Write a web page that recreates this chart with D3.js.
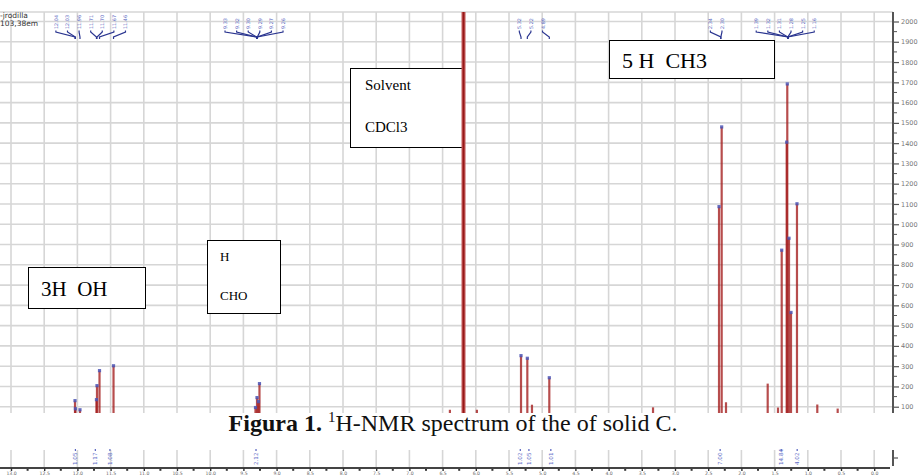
<!DOCTYPE html>
<html><head><meta charset="utf-8">
<script src="https://cdn.jsdelivr.net/npm/d3@7"></script>
<style>body{margin:0;background:#fff;overflow:hidden}svg{display:block}</style>
</head><body><svg id="c" width="921" height="476"></svg>
<script>
// ---- data ----
const xTicks = [13.0,12.5,12.0,11.5,11.0,10.5,10.0,9.5,9.0,8.5,8.0,7.5,7.0,6.5,6.0,5.5,5.0,4.5,4.0,3.5,3.0,2.5,2.0,1.5,1.0,0.5,0.0];
const xTickLabels = ["13.0","12.5","12.0","11.5","11.0","10.5","10.0","9.5","9.0","8.5","8.0","7.5","7.0","6.5","6.0","5.5","5.0","4.5","4.0","3.5","3.0","2.5","2.0","1.5","1.0","0.5","0.0"];
const yTicks = [100,200,300,400,500,600,700,800,900,1000,1100,1200,1300,1400,1500,1600,1700,1800,1900,2000];
const peakPpm = [12.036,12.030,11.961,11.713,11.705,11.667,11.456, 9.318,9.295,9.273,9.258, 6.390,5.983, 5.319,5.224,5.154,4.893, 3.331, 2.337,2.297,2.232, 1.604,1.449,1.393,1.318,1.309,1.283,1.253,1.163,0.857,0.550];
const peakInt = [130,90,85,135,204,278,302, 96,145,125,214, 85,85, 352,339,110,243, 97, 1087,1480,122, 214,96,872,1405,1692,931,565,1101,111,91];
const peakPicked = [1,1,1,1,1,1,1, 1,1,1,1, 0,0, 1,1,0,1, 0, 1,1,0, 0,0,1,1,1,1,1,1,0,0];
const solventPpm = 6.185;
const solventInt = 9000;
// peak-picking labels (top)
const labelGroups = [
  {center: 11.80, texts: ["12.04","12.03","11.96","11.71","11.70","11.67","11.46"], targets: [12.036,12.030,11.961,11.713,11.705,11.667,11.456]},
  {center: 9.34, texts: ["9.33","9.32","9.30","9.29","9.27","9.26"], targets: [9.30,9.30,9.30,9.29,9.29,9.29]},
  {center: 5.17, texts: ["5.32","5.22","4.89"], targets: [5.319,5.224,4.893]},
  {center: 2.38, texts: ["2.34","2.30"], targets: [2.31,2.31]},
  {center: 1.34, texts: ["1.39","1.32","1.31","1.28","1.25","1.16"], targets: [1.30,1.30,1.30,1.30,1.30,1.30]}
];
// integrals (bottom)
const integralPpm = [12.03,11.73,11.51,9.31,5.33,5.20,4.87,2.32,1.40,1.16];
const integralText = ["1.05","1.17","1.08","2.12","1.02","1.05","1.01","7.00","14.84","4.02"];

// ---- layout ----
const svg = d3.select("#c");
const W = 921, H = 476;
const pTop = 12, pBottom = 413;
const x = d3.scaleLinear().domain([13, 0]).range([11, 874.2]);
const y = d3.scaleLinear().domain([0, 2000]).range([427, 21.5]);

const defs = svg.append("defs");
defs.append("clipPath").attr("id","plotclip").append("rect").attr("x",0).attr("y",pTop).attr("width",893).attr("height",pBottom-pTop);

// grid
const grid = svg.append("g").attr("stroke","#d6d6d6").attr("stroke-width",1.6);
grid.selectAll("line.v").data(xTicks).join("line")
  .attr("x1",d=>x(d)).attr("x2",d=>x(d)).attr("y1",pTop).attr("y2",pBottom);
grid.selectAll("line.h").data(yTicks).join("line")
  .attr("x1",0).attr("x2",893).attr("y1",d=>y(d)).attr("y2",d=>y(d));
grid.append("line").attr("x1",0).attr("x2",893).attr("y1",pTop).attr("y2",pTop);

// right axis
const yAxis = d3.axisRight(y).tickValues(yTicks).tickSize(6).tickFormat(d3.format("d"));
const ya = svg.append("g").attr("transform","translate(893,0)").call(yAxis);
ya.select(".domain").attr("stroke","#555").attr("stroke-width",2).attr("d",`M0,${pTop}V${pBottom}`);
ya.selectAll(".tick line").attr("stroke","#555").attr("stroke-width",1.2);
ya.selectAll(".tick text").attr("x",8).attr("font-family","DejaVu Sans").attr("font-size",6.5).attr("fill","#777");
const minorY = d3.range(50, 2001, 100);
svg.append("g").selectAll("line").data(minorY).join("line")
  .attr("x1",893).attr("x2",897).attr("y1",d=>y(d)).attr("y2",d=>y(d)).attr("stroke","#555").attr("stroke-width",1);

// annotation boxes
function box(x0,y0,w,h){ svg.append("rect").attr("x",x0).attr("y",y0).attr("width",w).attr("height",h).attr("fill","#fff").attr("stroke","#000").attr("stroke-width",1); }
box(28.5,267.5,117,41);
box(207.5,240.5,73,73);
box(350.5,68.5,112,79);
box(609.5,40.5,165,38);
const serif = "Liberation Serif, Times New Roman, serif";
svg.append("text").attr("x",41).attr("y",296).attr("font-family",serif).attr("font-size",21).style("white-space","pre").text("3H  OH");
svg.append("text").attr("x",220).attr("y",261).attr("font-family",serif).attr("font-size",13).text("H");
svg.append("text").attr("x",220).attr("y",300).attr("font-family",serif).attr("font-size",13).text("CHO");
svg.append("text").attr("x",365).attr("y",90).attr("font-family",serif).attr("font-size",15).text("Solvent");
svg.append("text").attr("x",365).attr("y",132).attr("font-family",serif).attr("font-size",15).text("CDCl3");
svg.append("text").attr("x",622).attr("y",68).attr("font-family",serif).attr("font-size",22).style("white-space","pre").text("5 H  CH3");

// peaks
const pk = svg.append("g").attr("clip-path","url(#plotclip)");
pk.append("rect").attr("x",x(solventPpm)-2).attr("y",y(solventInt)).attr("width",4).attr("height",y(0)-y(solventInt))
  .attr("fill","#c25757");
pk.append("line").attr("x1",x(solventPpm)).attr("x2",x(solventPpm)).attr("y1",y(solventInt)).attr("y2",y(0))
  .attr("stroke","#961818").attr("stroke-width",1.6);
const peaks = peakPpm.map((p,i)=>({p, v:peakInt[i], picked:peakPicked[i]}));
pk.selectAll("line.pk").data(peaks).join("line")
  .attr("x1",d=>x(d.p)).attr("x2",d=>x(d.p)).attr("y1",d=>y(d.v)).attr("y2",y(0))
  .attr("stroke","#a31b1b").attr("stroke-width",2.2).attr("stroke-opacity",0.78);
pk.selectAll("rect.dot").data(peaks.filter(d=>d.picked)).join("rect")
  .attr("x",d=>x(d.p)-1.6).attr("y",d=>y(d.v)-1.6).attr("width",3.2).attr("height",3.2)
  .attr("fill","#4b55b5").attr("fill-opacity",0.85);

// top labels
const lab = svg.append("g");
labelGroups.forEach(g=>{
  const n = g.texts.length, sp = 11.6;
  const cx = x(g.center);
  g.texts.forEach((t,i)=>{
    const lx = cx + (i-(n-1)/2)*sp;
    const tx = x(g.targets[i]);
    lab.append("text").attr("transform",`translate(${lx+2},29) rotate(-90)`)
      .attr("font-family","DejaVu Sans").attr("font-size",4.9).attr("fill","#5562c0").text(t);
    lab.append("path").attr("d",`M${lx},30.5L${lx},32L${tx},37L${tx},39`)
      .attr("fill","none").attr("stroke","#2a3590").attr("stroke-width",1.2);
  });
});
svg.append("text").attr("x",0).attr("y",18).attr("font-family","DejaVu Sans").attr("font-size",7.5).attr("fill","#333").text("-jrodilla");
svg.append("text").attr("x",0).attr("y",26).attr("font-family","DejaVu Sans").attr("font-size",7.5).attr("fill","#333").text("103,38em");

// caption band
svg.append("rect").attr("x",0).attr("y",pBottom).attr("width",W).attr("height",449-pBottom).attr("fill","#fff");
const cap = svg.append("text").attr("x",453).attr("y",431).attr("text-anchor","middle").attr("font-family",serif).attr("font-size",24).attr("fill","#111");
cap.append("tspan").attr("font-weight","bold").text("Figura 1. ");
cap.append("tspan").attr("font-size",15).attr("dy",-9).text("1");
cap.append("tspan").attr("dy",9).text("H-NMR spectrum of the of solid C.");

// bottom strip
const bs = svg.append("g");
bs.selectAll("line").data(xTicks).join("line")
  .attr("x1",d=>x(d)).attr("x2",d=>x(d)).attr("y1",450).attr("y2",467).attr("stroke","#d6d6d6").attr("stroke-width",1.6);
bs.append("line").attr("x1",893).attr("x2",893).attr("y1",450).attr("y2",466).attr("stroke","#555").attr("stroke-width",2);
bs.append("line").attr("x1",893).attr("x2",898).attr("y1",458).attr("y2",458).attr("stroke","#555").attr("stroke-width",1.2);
integralPpm.forEach((p,i)=>{
  bs.append("line").attr("x1",x(p)).attr("x2",x(p)).attr("y1",449).attr("y2",451).attr("stroke","#5562c0").attr("stroke-width",1.2);
  bs.append("text").attr("transform",`translate(${x(p)+2},465) rotate(-90)`)
    .attr("font-family","DejaVu Sans").attr("font-size",5.6).attr("fill","#6470c8").text(integralText[i]);
});
const xAxis = d3.axisBottom(x).tickValues(xTicks).tickSize(3).tickFormat((d,i)=>xTickLabels[i]);
const xa = svg.append("g").attr("transform","translate(0,468)").call(xAxis);
xa.select(".domain").attr("stroke","#444").attr("stroke-width",2).attr("d","M0,0H890");
xa.selectAll(".tick line").attr("stroke","#333").attr("stroke-width",1.4);
xa.selectAll(".tick text").attr("y",6.5).attr("dy",0).attr("dominant-baseline","auto").attr("font-family","DejaVu Sans").attr("font-size",4.6).attr("fill","#666");
svg.append("g").selectAll("rect").data(xTicks.slice(0,-1).map(d=>d-0.25)).join("rect")
  .attr("x",d=>x(d)-1).attr("y",469).attr("width",2).attr("height",1.8).attr("fill","#333");
</script></body></html>
